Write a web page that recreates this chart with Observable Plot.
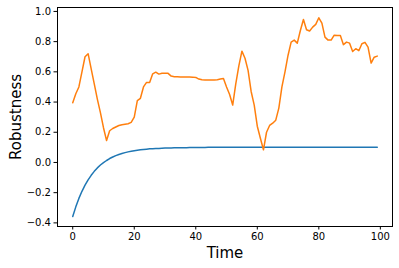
<!DOCTYPE html>
<html>
<head>
<meta charset="utf-8">
<script src="https://cdn.jsdelivr.net/npm/d3@7"></script>
<script src="https://cdn.jsdelivr.net/npm/@observablehq/plot@0.6"></script>
<style>
  body { margin: 0; background: #fff; }
  #chart svg { font-family: "DejaVu Sans", sans-serif; }
  g[aria-label="y-axis label"], g[aria-label="x-axis label"] { font-size: 15px; }
</style>
</head>
<body>
<div id="chart"></div>
<script>
const xTicks = [0, 20, 40, 60, 80, 100];
const yTicks = [-0.4, -0.2, 0.0, 0.2, 0.4, 0.6, 0.8, 1.0];

const blueValues = [
  -0.358, -0.294, -0.238, -0.191, -0.150, -0.115, -0.085, -0.059, -0.036, -0.017,
  -0.001, 0.013, 0.026, 0.036, 0.045, 0.053, 0.059, 0.065, 0.070, 0.074,
  0.078, 0.081, 0.084, 0.086, 0.088, 0.090, 0.091, 0.092, 0.093, 0.094,
  0.095, 0.096, 0.096, 0.097, 0.097, 0.098, 0.098, 0.098, 0.099, 0.099,
  0.099, 0.099, 0.099, 0.099, 0.100, 0.100, 0.100, 0.100, 0.100, 0.100,
  0.100, 0.100, 0.100, 0.100, 0.100, 0.100, 0.100, 0.100, 0.100, 0.100,
  0.100, 0.100, 0.100, 0.100, 0.100, 0.100, 0.100, 0.100, 0.100, 0.100,
  0.100, 0.100, 0.100, 0.100, 0.100, 0.100, 0.100, 0.100, 0.100, 0.100,
  0.100, 0.100, 0.100, 0.100, 0.100, 0.100, 0.100, 0.100, 0.100, 0.100,
  0.100, 0.100, 0.100, 0.100, 0.100, 0.100, 0.100, 0.100, 0.100, 0.100
];

const orangeValues = [
  0.395, 0.455, 0.500, 0.600, 0.700, 0.720, 0.620, 0.520, 0.420, 0.330,
  0.230, 0.145, 0.210, 0.225, 0.235, 0.245, 0.250, 0.253, 0.256, 0.265,
  0.300, 0.410, 0.425, 0.500, 0.530, 0.530, 0.587, 0.598, 0.585, 0.590,
  0.590, 0.590, 0.572, 0.567, 0.567, 0.566, 0.566, 0.566, 0.566, 0.565,
  0.563, 0.552, 0.547, 0.546, 0.546, 0.546, 0.546, 0.548, 0.552, 0.556,
  0.500, 0.450, 0.380, 0.520, 0.640, 0.737, 0.690, 0.610, 0.470, 0.380,
  0.240, 0.160, 0.084, 0.200, 0.245, 0.260, 0.280, 0.360, 0.500, 0.600,
  0.710, 0.797, 0.810, 0.790, 0.874, 0.947, 0.879, 0.870, 0.896, 0.914,
  0.958, 0.923, 0.830, 0.810, 0.810, 0.843, 0.840, 0.840, 0.780, 0.797,
  0.790, 0.735, 0.753, 0.740, 0.786, 0.795, 0.764, 0.658, 0.697, 0.704
];

const time = blueValues.map((_, i) => i);
const blue = time.map(t => ({t, v: blueValues[t]}));
const orange = time.map(t => ({t, v: orangeValues[t]}));

const chart = Plot.plot({
  width: 399,
  height: 268,
  marginLeft: 57,
  marginRight: 7,
  marginTop: 7,
  marginBottom: 42,
  style: {fontFamily: "DejaVu Sans, sans-serif", fontSize: "10px", color: "#000", background: "#fff"},
  x: {domain: [-4.95, 103.95]},
  y: {domain: [-0.424, 1.026]},
  marks: [
    Plot.axisX({ticks: xTicks, tickSize: 3.5, tickPadding: 3, tickFormat: d3.format("d"),
      label: "Time", labelAnchor: "center", labelArrow: "none", labelOffset: 31}),
    Plot.axisY({ticks: yTicks, tickSize: 3.5, tickPadding: 3, tickFormat: d3.format(".1f"),
      label: "Robustness", labelAnchor: "center", labelArrow: "none", labelOffset: 47}),
    Plot.line(blue, {x: "t", y: "v", stroke: "#1f77b4", strokeWidth: 1.5}),
    Plot.line(orange, {x: "t", y: "v", stroke: "#ff7f0e", strokeWidth: 1.5}),
    Plot.frame({stroke: "#000", strokeWidth: 1})
  ]
});
document.getElementById("chart").appendChild(chart);
</script>
</body>
</html>
